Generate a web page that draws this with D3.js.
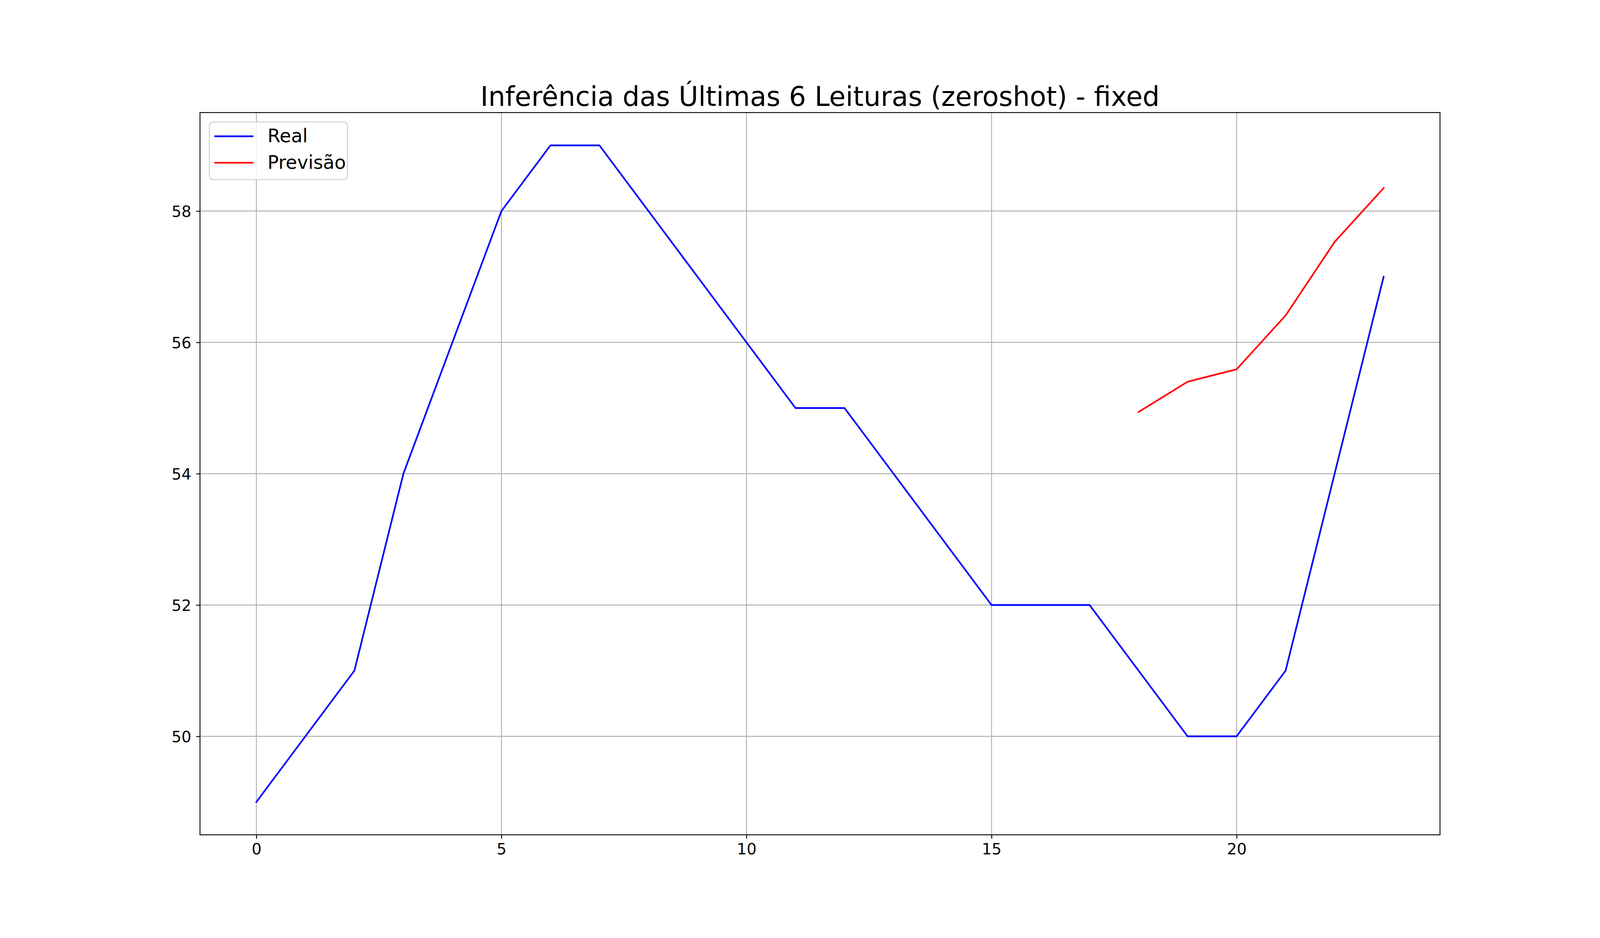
<!DOCTYPE html>
<html>
<head>
<meta charset="utf-8">
<script src="https://cdn.jsdelivr.net/npm/d3@7"></script>
<style>
  html, body { margin: 0; padding: 0; background: #fff; width: 100%; height: 100%; overflow: hidden; }
  svg { display: block; font-family: "DejaVu Sans", sans-serif; }
</style>
</head>
<body>
<svg id="chart"></svg>
<script>
// ---- data ----
const titleText = "Inferência das Últimas 6 Leituras (zeroshot) - fixed";
const realX = [0,1,2,3,4,5,6,7,8,9,10,11,12,13,14,15,16,17,18,19,20,21,22,23];
const realY = [49,50,51,54,56,58,59,59,58,57,56,55,55,54,53,52,52,52,51,50,50,51,54,57];
const predX = [18,19,20,21,22,23];
const predY = [54.94,55.40,55.59,56.41,57.53,58.35];
const xTicks = [0,5,10,15,20];
const yTicks = [50,52,54,56,58];
const seriesNames = ["Real", "Previsão"];
const seriesColors = ["#0000ff", "#ff0000"];

// ---- layout (matplotlib-like figure fractions, filling the window) ----
const W = window.innerWidth || document.documentElement.clientWidth || 6000;
const H = window.innerHeight || document.documentElement.clientHeight || 2400;
const s = Math.min(W / 6000, H / 2400);   // scale for text, strokes, paddings
const L = 0.125 * W, R = 0.9 * W, T = 0.12 * H, B = 0.89 * H;

const svg = d3.select("#chart").attr("width", W).attr("height", H);

const allX = realX.concat(predX), allY = realY.concat(predY);
const xmin = d3.min(allX), xmax = d3.max(allX);
const ymin = d3.min(allY), ymax = d3.max(allY);
const xpad = (xmax - xmin) * 0.05, ypad = (ymax - ymin) * 0.05;
const x = d3.scaleLinear().domain([xmin - xpad, xmax + xpad]).range([L, R]);
const y = d3.scaleLinear().domain([ymin - ypad, ymax + ypad]).range([B, T]);

const gridColor = "#b0b0b0", gridW = 3.33 * s;

// background
svg.append("rect").attr("x",0).attr("y",0).attr("width",W).attr("height",H).attr("fill","#fff");

// grid
const grid = svg.append("g");
grid.selectAll("line.gx").data(xTicks).enter().append("line")
  .attr("x1", d => x(d)).attr("x2", d => x(d)).attr("y1", T).attr("y2", B)
  .attr("stroke", gridColor).attr("stroke-width", gridW);
grid.selectAll("line.gy").data(yTicks).enter().append("line")
  .attr("y1", d => y(d)).attr("y2", d => y(d)).attr("x1", L).attr("x2", R)
  .attr("stroke", gridColor).attr("stroke-width", gridW);

// lines
const line = d3.line().x(d => x(d[0])).y(d => y(d[1]));
const realPts = realX.map((v,i) => [v, realY[i]]);
const predPts = predX.map((v,i) => [v, predY[i]]);
[realPts, predPts].forEach((pts, i) => {
  svg.append("path").datum(pts).attr("d", line)
    .attr("fill","none").attr("stroke", seriesColors[i]).attr("stroke-width", 6.25 * s)
    .attr("stroke-linejoin","round").attr("stroke-linecap","square");
});

// axes
const tickFont = 58.3 * s;
const xAxis = d3.axisBottom(x).tickValues(xTicks).tickSize(14.6 * s).tickSizeOuter(0).tickPadding(17 * s).tickFormat(d3.format("d"));
const yAxis = d3.axisLeft(y).tickValues(yTicks).tickSize(14.6 * s).tickSizeOuter(0).tickPadding(18 * s).tickFormat(d3.format("d"));
const gx = svg.append("g").attr("transform", `translate(0,${B})`).call(xAxis);
const gy = svg.append("g").attr("transform", `translate(${L},0)`).call(yAxis);
[gx, gy].forEach(g => {
  g.select(".domain").remove();
  g.selectAll(".tick line").attr("stroke","#000").attr("stroke-width", 3.33 * s);
  g.selectAll(".tick text").attr("fill","#000").style("font-family","DejaVu Sans").style("font-size", tickFont + "px");
});
gy.selectAll(".tick text").attr("dy","0.36em");

// frame (spines)
svg.append("rect").attr("x", L).attr("y", T).attr("width", R - L).attr("height", B - T)
  .attr("fill","none").attr("stroke","#000").attr("stroke-width", 3.33 * s);

// title
svg.append("text").attr("x", (L + R) / 2).attr("y", T - 25 * s).attr("text-anchor","middle")
  .style("font-size", (100.8 * s) + "px").attr("fill","#000").text(titleText);

// legend
const lg = svg.append("g").attr("transform", `translate(${L},${T})`);
const legFont = 70 * s;
lg.append("rect").attr("x", 35 * s).attr("y", 35 * s).attr("width", 518 * s).attr("height", 216 * s)
  .attr("rx", 14 * s).attr("ry", 14 * s)
  .attr("fill","#fff").attr("fill-opacity",0.8)
  .attr("stroke","#cccccc").attr("stroke-opacity",0.8).attr("stroke-width", 4.17 * s);
const legRows = [89, 188];
seriesNames.forEach((name, i) => {
  lg.append("line").attr("x1", 57 * s).attr("x2", 197 * s).attr("y1", legRows[i] * s).attr("y2", legRows[i] * s)
    .attr("stroke", seriesColors[i]).attr("stroke-width", 6.25 * s).attr("stroke-linecap","square");
  lg.append("text").attr("x", 253 * s).attr("y", (legRows[i] + 23) * s).style("font-size", legFont + "px")
    .attr("fill","#000").text(name);
});
</script>
</body>
</html>
